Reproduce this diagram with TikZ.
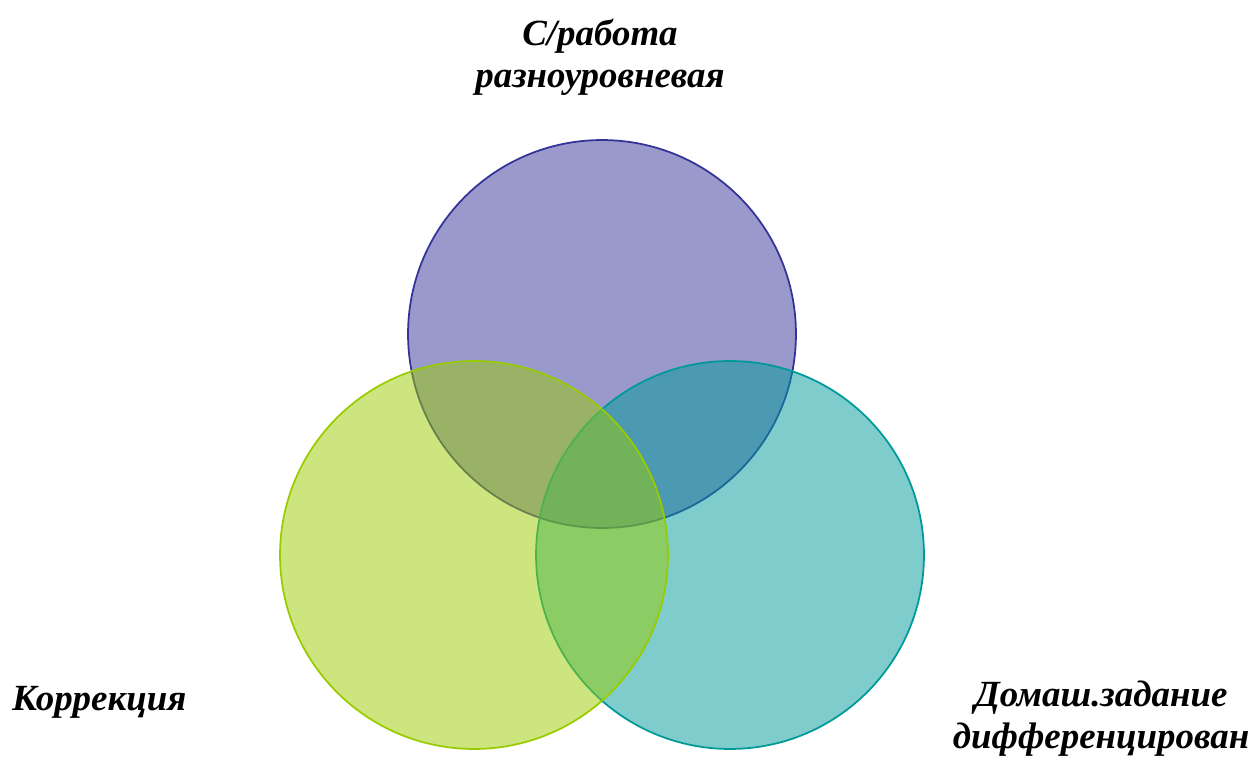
\documentclass[tikz,border=0pt]{standalone}
\usepackage{fontspec}
\setmainfont{Liberation Serif}
\definecolor{topc}{HTML}{333399}
\definecolor{leftc}{HTML}{99CC00}
\definecolor{rightc}{HTML}{009999}
\begin{document}
\begin{tikzpicture}[
  x=0.02cm, y=-0.02cm,
  set/.style={circle, draw=#1, fill=#1, fill opacity=0.5, draw opacity=1,
    line width=1pt, minimum size=7.76cm, inner sep=0pt},
  lbl/.style={font=\fontsize{21}{24}\selectfont\bfseries\itshape, align=center},
]
  \useasboundingbox (0,0) rectangle (1253,760);

  % порядок: верхний, правый, левый
  \node[set=topc] (top) at (602, 334) {};
  \node[set=rightc] (right) at (730, 555) {};
  \node[set=leftc] (left) at (474, 555) {};

  \node[lbl] (toplbl) at (600, 57) {С/работа\\разноуровневая};
  \node[lbl, anchor=west] (leftlbl) at (6, 702) {Коррекция};
  \node[lbl] (rightlbl) at (1101, 719) {Домаш.задание\\дифференцирован};
\end{tikzpicture}
\end{document}
